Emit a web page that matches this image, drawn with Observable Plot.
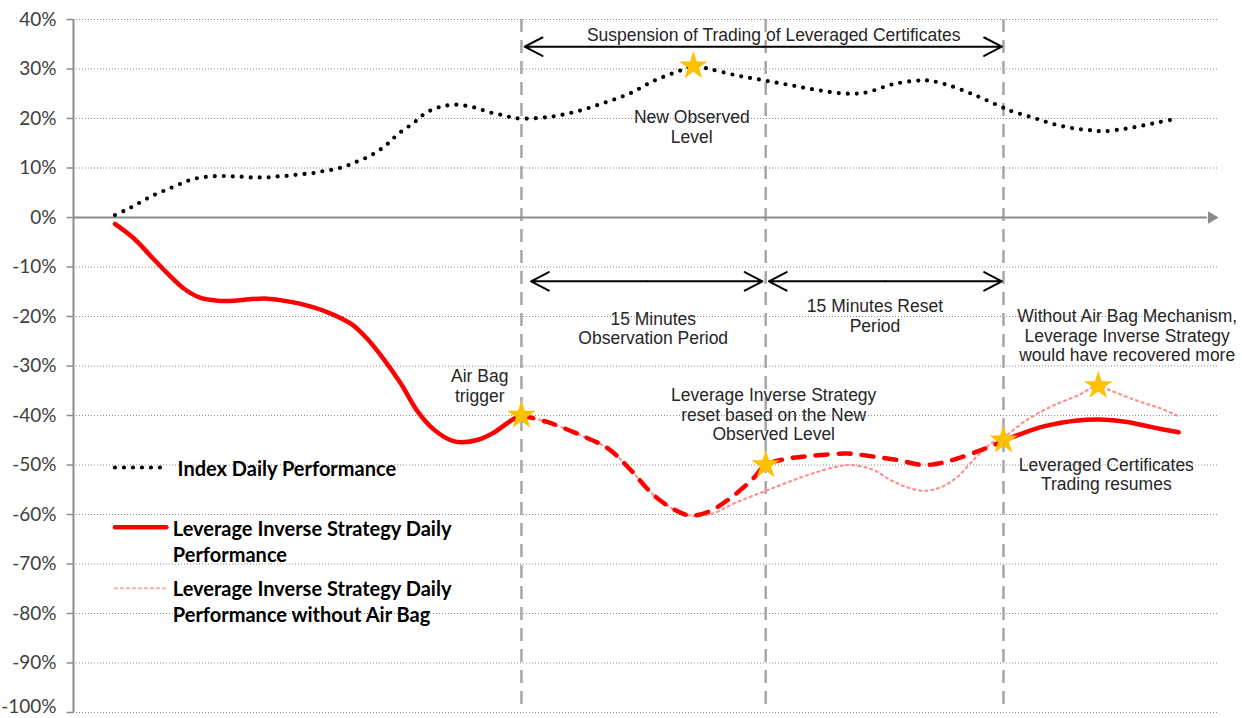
<!DOCTYPE html>
<html><head><meta charset="utf-8">
<script src="https://cdn.jsdelivr.net/npm/d3@7"></script>
<script src="https://cdn.jsdelivr.net/npm/@observablehq/plot@0.6"></script>
<style>body{margin:0;background:#fff}</style>
</head><body><div id="chart"></div>
<script>
// x: minutes relative to the Air Bag trigger; y: daily performance in %
const indexT = [-25.3,-24.7,-24.2,-23.7,-23.2,-22.7,-22.1,-21.6,-21.0,-20.5,-19.9,-19.3,-18.7,-18.1,-17.6,-17.0,-16.4,-15.8,-15.2,-14.6,-14.1,-13.5,-12.9,-12.3,-11.7,-11.1,-10.6,-10.1,-9.5,-9.0,-8.5,-8.1,-7.7,-7.2,-6.7,-6.3,-5.8,-5.2,-4.7,-4.1,-3.5,-2.9,-2.4,-1.8,-1.2,-0.7,-0.1,1.7,3.4,5.0,6.7,8.3,9.9,10.7,11.7,13.4,15.1,16.8,18.5,20.4,21.5,23.2,24.9,25.5,26.6,28.3,29.9,30.4,31.6,32.1,33.2,34.4,35.5,36.2,37.3,38.4,39.6,40.7];
const indexV = [0.5,1.4,2.2,3.1,4.0,4.8,5.6,6.3,7.1,7.7,8.1,8.3,8.4,8.3,8.3,8.1,8.1,8.1,8.3,8.4,8.6,8.8,9.0,9.4,9.7,10.2,10.8,11.5,12.3,13.3,14.4,15.6,16.8,18.0,19.1,20.3,21.4,22.2,22.6,22.8,22.6,22.2,21.7,21.1,20.7,20.3,20.0,20.3,21.4,23.0,25.0,27.7,29.7,30.6,30.0,28.7,27.7,26.7,25.7,25.0,25.3,27.0,27.7,27.6,26.7,24.6,22.3,21.6,20.4,19.9,18.8,18.0,17.6,17.4,17.8,18.4,19.2,19.9];

const levBeforeT = [-25.3,-24.1,-23.1,-22.0,-21.0,-20.0,-18.9,-17.9,-16.9,-15.8,-14.8,-13.8,-12.1,-10.6,-9.6,-8.6,-7.5,-6.5,-5.5,-4.4,-3.8,-2.7,-1.7,-0.5,0];
const levBeforeV = [-1.3,-4.3,-7.7,-11.4,-14.4,-16.2,-16.8,-16.8,-16.5,-16.4,-16.8,-17.4,-19.1,-21.5,-24.5,-28.5,-33.6,-39.0,-42.7,-45.0,-45.4,-44.9,-43.4,-40.7,-40.0];

const levSuspT = [0,1.6,3.7,5.4,6.8,8.2,9.5,10.5,11.6,13.0,14.4,15.2,16.6,18.2,20.3,21.9,23.4,25.0,26.1,27.3,28.6,29.6,30.0];
const levSuspV = [-40.0,-41.3,-44.0,-46.7,-51.0,-56.0,-59.0,-60.2,-59.5,-56.7,-52.8,-50.0,-48.7,-48.1,-47.7,-48.3,-49.0,-50.0,-49.6,-48.5,-47.0,-45.7,-45.0];

const levAfterT = [30.0,30.6,32.5,34.6,36.0,37.7,39.3,40.9];
const levAfterV = [-45.0,-44.3,-42.2,-41.0,-40.8,-41.3,-42.4,-43.4];

const noBagT = [0,1.6,3.7,5.4,6.8,8.2,9.5,10.5,11.9,13.2,15.3,17.4,19.4,20.5,21.9,23.0,24.0,25.1,26.1,27.1,28.1,29.2,30.0,31.5,33.1,34.6,35.9,36.7,38.3,39.8,40.8];
const noBagV = [-40.0,-41.3,-44.0,-46.7,-51.0,-56.0,-59.0,-60.2,-59.8,-57.8,-55.1,-52.5,-50.5,-50.0,-51.0,-53.1,-54.5,-55.2,-54.5,-52.5,-49.1,-45.7,-44.4,-40.8,-38.0,-36.0,-34.0,-35.0,-37.0,-38.6,-40.0];

const starT = [10.7,0,15.2,30.0,35.9];
const starV = [30.6,-40.0,-50.0,-45.0,-34.0];

const eventT = [0,15.2,30.0];
const yTicks = [40,30,20,10,0,-10,-20,-30,-40,-50,-60,-70,-80,-90,-100];

const legendLabels = ["Index Daily Performance","Leverage Inverse Strategy Daily\nPerformance","Leverage Inverse Strategy Daily\nPerformance without Air Bag"];

const annoText = ["Suspension of Trading of Leveraged Certificates","New Observed\nLevel","15 Minutes\nObservation Period","15 Minutes Reset\nPeriod","Without Air Bag Mechanism,\nLeverage Inverse Strategy\nwould have recovered more","Air Bag\ntrigger","Leverage Inverse Strategy\nreset based on the New\nObserved Level","Leveraged Certificates\nTrading resumes"];
const annoT = [15.7,10.6,8.2,22.0,37.7,-2.6,15.7,36.4];
const annoV = [37.0,18.3,-22.4,-19.8,-23.8,-34.0,-39.8,-51.9];

const arrowsX1 = [15.05,15.05,7.8,7.8,22.65,22.65];
const arrowsX2 = [0.2,29.9,0.6,15.0,15.4,29.9];
const arrowsY = [34.5,34.5,-12.9,-12.9,-12.9,-12.9];

const zip = (t, v) => t.map((x, i) => ({t: x, v: v[i]}));
const indexData = zip(indexT, indexV);
const before = zip(levBeforeT, levBeforeV);
const susp = zip(levSuspT, levSuspV);
const after = zip(levAfterT, levAfterV);
const noBag = zip(noBagT, noBagV);
const stars = zip(starT, starV);
const annos = annoText.map((s, i) => ({s, t: annoT[i], v: annoV[i]}));
const arrows = arrowsX1.map((x1, i) => ({x1, x2: arrowsX2[i], y: arrowsY[i]}));

const xMin = -27.88, xMax = 43.32;
const RED = "#ff0000", PINK = "#ff8f8f";
const legendSampleX = [-25.3, -22.2];
const tickFont = "Lato, sans-serif";

const chart = Plot.plot({
  width: 1242, height: 718,
  marginLeft: 73, marginRight: 25, marginTop: 19, marginBottom: 6,
  x: {domain: [xMin, xMax], axis: null},
  y: {domain: [-100, 40], axis: null},
  style: {background: "#fff", fontFamily: "Liberation Sans, Arial, sans-serif", color: "#404040"},
  marks: [
    Plot.ruleY(yTicks.filter(d => d !== 0), {y: d => d, stroke: "#8c8c8c", strokeWidth: 1.1, strokeDasharray: "1,2"}),
    // y axis: line, ticks, labels
    Plot.ruleX([xMin], {stroke: "#8c8c8c", strokeWidth: 2}),
    Plot.ruleY(yTicks, {y: d => d, x1: xMin - 0.4, x2: xMin, stroke: "#8c8c8c", strokeWidth: 1.5}),
    Plot.text(yTicks.filter(d => d !== -100), {x: xMin, y: d => d, text: d => d + "%", textAnchor: "end", dx: -17, fontSize: 19, fontFamily: tickFont, fill: "#404040"}),
    Plot.text(yTicks.filter(d => d === -100), {x: xMin, y: d => d, text: d => d + "%", textAnchor: "end", dx: -17, dy: -6, fontSize: 19, fontFamily: tickFont, fill: "#404040"}),
    Plot.ruleX(eventT, {x: d => d, stroke: "#a6a6a6", strokeWidth: 2.5, strokeDasharray: "13,8"}),
    Plot.ruleY([0], {x1: xMin, x2: 42.7, stroke: "#8c8c8c", strokeWidth: 2}),
    Plot.dot([0], {x: 42.95, y: 0, symbol: "triangle", r: 4.6, rotate: 90, fill: "#8c8c8c", stroke: null}),
    // lines
    Plot.line(indexData, {x: "t", y: "v", stroke: "#000", strokeWidth: 4.2, strokeLinecap: "round", strokeDasharray: "0,9", curve: "catmull-rom"}),
    Plot.line(noBag, {x: "t", y: "v", stroke: PINK, strokeWidth: 2.2, strokeDasharray: "2,4", curve: "catmull-rom"}),
    Plot.line(before, {x: "t", y: "v", stroke: RED, strokeWidth: 4.5, strokeLinecap: "round", curve: "catmull-rom"}),
    Plot.line(susp, {x: "t", y: "v", stroke: RED, strokeWidth: 4.5, strokeLinecap: "round", strokeDasharray: "12,11", curve: "catmull-rom"}),
    Plot.line(after, {x: "t", y: "v", stroke: RED, strokeWidth: 4.5, strokeLinecap: "round", curve: "catmull-rom"}),
    // arrows
    Plot.arrow(arrows, {x1: "x1", y1: "y", x2: "x2", y2: "y", stroke: "#000", strokeWidth: 2, headLength: 15, headAngle: 55}),
    // stars
    Plot.dot(stars, {x: "t", y: "v", symbol: "star", r: 9, fill: "#ffc000", stroke: null}),
    // annotations
    Plot.text(annos, {x: "t", y: "v", text: "s", fontSize: 17.5, lineHeight: 1.12, fill: "#262626", fontFamily: "Liberation Sans, Arial, sans-serif", textAnchor: "middle", lineAnchor: "middle"}),
    // legend
    Plot.line([{t: legendSampleX[0], v: -50.5}, {t: legendSampleX[1], v: -50.5}], {x: "t", y: "v", stroke: "#000", strokeWidth: 4.2, strokeLinecap: "round", strokeDasharray: "0,9"}),
    Plot.line([{t: legendSampleX[0], v: -62.6}, {t: legendSampleX[1] + 0.1, v: -62.6}], {x: "t", y: "v", stroke: RED, strokeWidth: 4.5}),
    Plot.line([{t: legendSampleX[0], v: -74.9}, {t: legendSampleX[1], v: -74.9}], {x: "t", y: "v", stroke: "#ffaaaa", strokeWidth: 2.2, strokeDasharray: "2,4"}),
    Plot.text(legendLabels, {x: [-21.4, -21.7, -21.7], y: [-50.5, -65.2, -77.5], text: d => d, textAnchor: "start", lineAnchor: "middle", fontSize: 20, lineHeight: 1.3, fontWeight: "bold", fontFamily: "Lato, sans-serif", fill: "#000"})
  ]
});
document.getElementById("chart").appendChild(chart);
</script>
</body></html>
